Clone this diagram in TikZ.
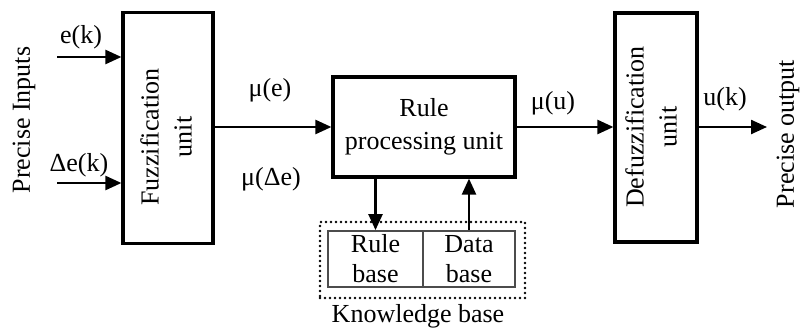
\documentclass[tikz,border=0pt]{standalone}
\usepackage{fontspec}
\setmainfont{Liberation Serif}
\usetikzlibrary{arrows.meta}
\begin{document}
\begin{tikzpicture}[x=1pt,y=-1pt,
  unitbox/.style={draw,line width=3.2pt,inner sep=0pt,align=center},
  kbbox/.style={draw=black!70,line width=1.8pt,inner sep=0pt,align=center,minimum height=56pt},
  arr/.style={line width=2.4pt,-{Triangle[length=16pt,width=14pt]}},
  lbl/.style={inner sep=0pt},
  every node/.style={font=\fontsize{26}{33}\selectfont}
]
\useasboundingbox (0,0) rectangle (802,332);
% main boxes
\node[unitbox,minimum width=90pt,minimum height=231pt] (fuzz) at (168,128) {};
\node[rotate=90,lbl,align=center] (fuzzt) at (166,137) {Fuzzification\\unit};
\node[unitbox,minimum width=182pt,minimum height=100pt] (rule) at (424,127) {Rule\\processing unit};
\node[unitbox,minimum width=82pt,minimum height=229pt] (defuzz) at (656,127.5) {};
\node[rotate=90,lbl,align=center] (defuzzt) at (651,127) {Defuzzification\\unit};
% knowledge base
\node[kbbox,minimum width=95pt,font=\fontsize{26}{30}\selectfont] (rb) at (375.5,259) {Rule\\base};
\node[kbbox,minimum width=92pt,font=\fontsize{26}{30}\selectfont] (db) at (469,259) {Data\\base};
\node[draw,line width=2.6pt,dash pattern=on 0pt off 5pt,line cap=round,minimum width=205pt,minimum height=76pt] (kb) at (422.5,260) {};
\node[lbl] (kbt) at (418,316) {Knowledge base};
% inputs
\coordinate (in1) at (57,57);
\coordinate (in2) at (57,183);
\draw[arr] (in1) -- (in1 -| fuzz.west);
\draw[arr] (in2) -- (in2 -| fuzz.west);
\node[lbl] (ek) at (81,37) {e(k)};
\node[lbl] (dek) at (79,165) {Δe(k)};
\node[rotate=90,lbl] (pin) at (24,120) {Precise Inputs};
% fuzz -> rule
\draw[arr] (fuzz.east |- rule.west) -- (rule.west);
\node[lbl] (mue) at (270,90) {μ(e)};
\node[lbl] (mude) at (271,179) {μ(Δe)};
% rule -> defuzz
\draw[arr] (rule.east) -- (rule.east -| defuzz.west);
\node[lbl] (muu) at (553,103) {μ(u)};
% output
\coordinate (out) at (767,127);
\draw[arr] (defuzz.east |- out) -- (out);
\node[lbl] (uk) at (725,99) {u(k)};
\node[rotate=90,lbl] (pout) at (788,134) {Precise output};
% rule <-> kb
\draw[arr] (rb.north |- rule.south) -- (rb.north);
\draw[arr] (db.north) -- (db.north |- rule.south);
\end{tikzpicture}
\end{document}
